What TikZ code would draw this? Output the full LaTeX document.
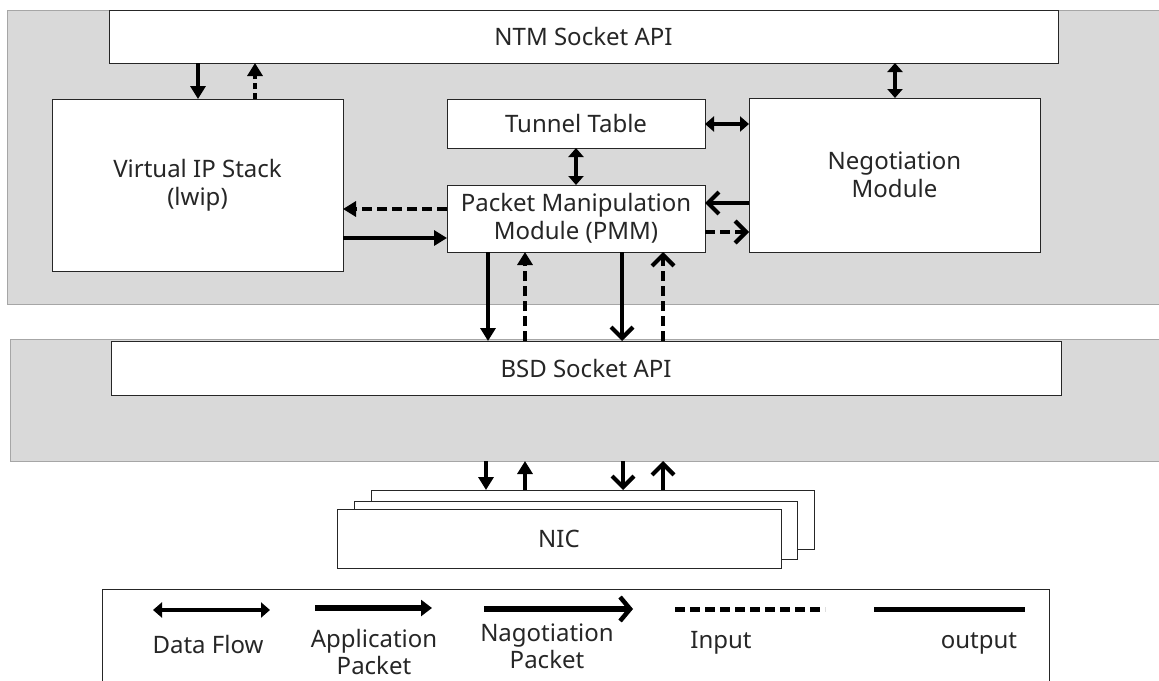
\documentclass[tikz,border=0pt]{standalone}
\usepackage{fontspec}
\setmainfont{Noto Sans}
\usetikzlibrary{arrows.meta}
\definecolor{panelgray}{HTML}{D9D9D9}
\definecolor{panelborder}{HTML}{A6A6A6}
\definecolor{boxborder}{HTML}{262626}
\definecolor{textc}{HTML}{262626}
\begin{document}
\begin{tikzpicture}[x=1pt,y=-1pt,
  panel/.style={fill=panelgray, draw=panelborder, line width=0.8pt, inner sep=0pt, outer sep=0pt},
  box/.style={draw=boxborder, fill=white, line width=1pt, inner sep=0pt, outer sep=0pt, text=textc, align=center, font=\fontsize{24}{28}\selectfont},
  lbl/.style={font=\fontsize{24}{27}\selectfont, text=textc, align=center, inner sep=0pt},
  app/.style={line width=4.2pt, -{Triangle[length=13pt,width=15pt]}},
  nego/.style={line width=4.2pt, -{Straight Barb[length=11pt,width=22pt,line width=4.2pt]}},
  data/.style={line width=3.2pt, {Triangle[length=9pt,width=15pt]}-{Triangle[length=9pt,width=15pt]}},
  dashin/.style={dash pattern=on 10pt off 5pt},
  dotin/.style={dash pattern=on 6pt off 4pt},
]
\useasboundingbox (0,0) rectangle (1159,680);
% panels
\node[panel, minimum width=1160, minimum height=294, anchor=north west] (p1) at (7,10) {};
\node[panel, minimum width=1160, minimum height=122, anchor=north west] (p2) at (10,339) {};
% boxes
\node[box, minimum width=949, minimum height=53] (ntm) at (583.5,36.5) {NTM Socket API};
\node[box, minimum width=291, minimum height=172] (vip) at (197.5,185) {Virtual IP Stack\\(lwip)};
\node[box, minimum width=258, minimum height=49] (tt) at (576,123.5) {Tunnel Table};
\node[box, minimum width=258, minimum height=67] (pmm) at (576,218.5) {Packet Manipulation\\Module (PMM)};
\node[box, minimum width=291, minimum height=154] (neg) at (894.5,175) {Negotiation\\Module};
\node[box, minimum width=950, minimum height=54] (bsd) at (586,368) {BSD Socket API};
\node[box, minimum width=443, minimum height=59] (nic3) at (592.5,519.5) {};
\node[box, minimum width=443, minimum height=58] (nic2) at (575.5,530) {};
\node[box, minimum width=444, minimum height=59] (nic1) at (559,538.5) {NIC};
% helper coordinates
\coordinate (xa) at (198,0);
\coordinate (xb) at (255,0);
\coordinate (xc) at (895,0);
\coordinate (xt) at (576,0);
\coordinate (y1) at (0,124);
\coordinate (y2) at (0,209);
\coordinate (y3) at (0,238);
\coordinate (y4) at (0,203);
\coordinate (y5) at (0,232);
\coordinate (d1) at (488,0);
\coordinate (d2) at (525,0);
\coordinate (d3) at (622,0);
\coordinate (d4) at (663,0);
\coordinate (e1) at (486,0);
\coordinate (e2) at (525,0);
\coordinate (e3) at (623,0);
\coordinate (e4) at (663,0);
% top connectors
\draw[app] (xa |- ntm.south) -- (xa |- vip.north);
\draw[app, dotin] (xb |- vip.north) -- (xb |- ntm.south);
\draw[data] (xc |- ntm.south) -- (xc |- neg.north);
\draw[data] (tt.east |- y1) -- (neg.west |- y1);
\draw[data] (xt |- tt.south) -- (xt |- pmm.north);
\draw[app, dashin] (pmm.west |- y2) -- (vip.east |- y2);
\draw[app] (vip.east |- y3) -- (pmm.west |- y3);
\draw[nego] (neg.west |- y4) -- (pmm.east |- y4);
\draw[nego, dashin] (pmm.east |- y5) -- (neg.west |- y5);
% PMM <-> BSD
\draw[app] (d1 |- pmm.south) -- (d1 |- bsd.north);
\draw[app, dashin] (d2 |- bsd.north) -- (d2 |- pmm.south);
\draw[nego] (d3 |- pmm.south) -- (d3 |- bsd.north);
\draw[nego, dashin] (d4 |- bsd.north) -- (d4 |- pmm.south);
% panel <-> NIC
\draw[app] (e1 |- p2.south) -- (e1 |- nic3.north);
\draw[app] (e2 |- nic3.north) -- (e2 |- p2.south);
\draw[nego] (e3 |- p2.south) -- (e3 |- nic3.north);
\draw[nego] (e4 |- nic3.north) -- (e4 |- p2.south);
% legend
\node[draw=boxborder, line width=1pt, minimum width=947, minimum height=100, anchor=north west, inner sep=0pt] (leg) at (102,589) {};
\coordinate (l1a) at (153,610); \coordinate (l1b) at (270,610);
\coordinate (l2a) at (315,608); \coordinate (l2b) at (432,608);
\coordinate (l3a) at (484,609); \coordinate (l3b) at (633,609);
\coordinate (l4a) at (675,609); \coordinate (l4b) at (825,609);
\coordinate (l5a) at (874,609); \coordinate (l5b) at (1025,609);
\draw[data, line width=3.6pt] (l1a) -- (l1b);
\draw[line width=5.5pt, -{Triangle[length=11pt,width=16pt]}] (l2a) -- (l2b);
\draw[line width=5.5pt, -{Straight Barb[length=10pt,width=24pt,line width=4.5pt]}] (l3a) -- (l3b);
\draw[line width=5pt, dashin] (l4a) -- (l4b);
\draw[line width=5pt] (l5a) -- (l5b);
\node[lbl] (t1) at (208,644) {Data Flow};
\node[lbl] (t2) at (374,652) {Application\\Packet};
\node[lbl] (t3) at (547,646) {Nagotiation\\Packet};
\node[lbl] (t4) at (721,643) {Input};
\node[lbl] (t5) at (979,643) {output};
\end{tikzpicture}
\end{document}
